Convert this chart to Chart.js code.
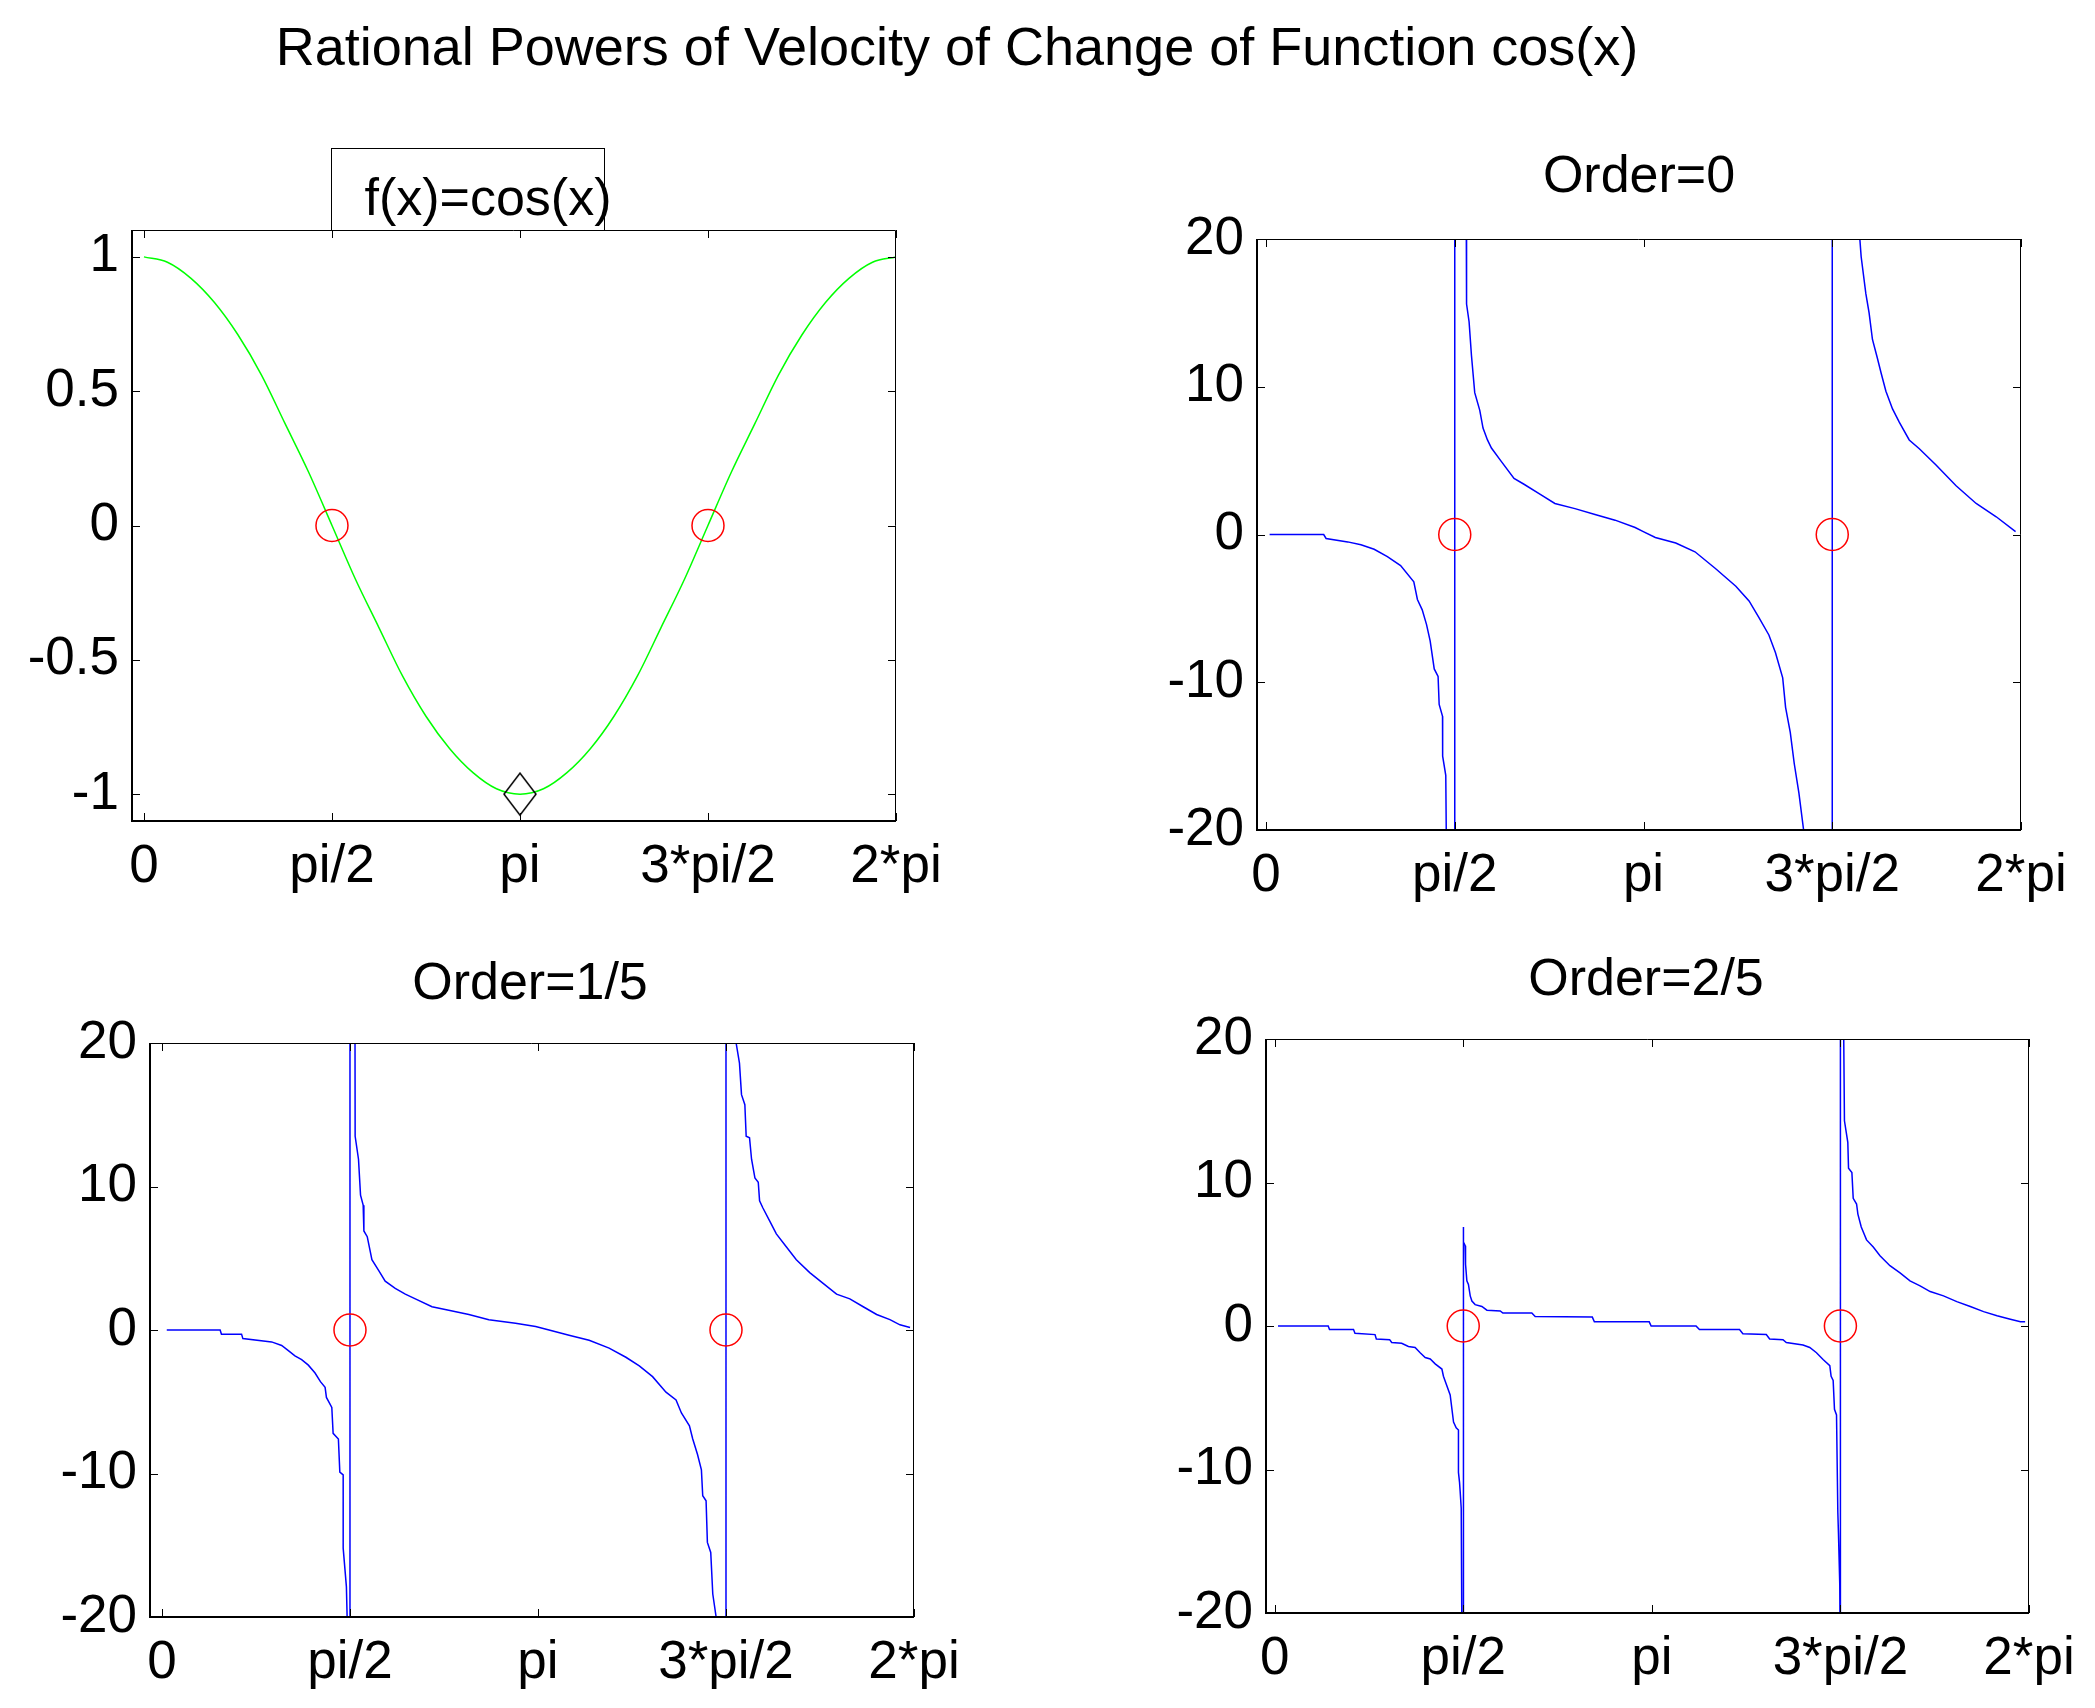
<!DOCTYPE html>
<html>
<head>
<meta charset="utf-8">
<script src="https://cdn.jsdelivr.net/npm/chart.js@4.4.1/dist/chart.umd.min.js"></script>
<style>
html,body{margin:0;padding:0;background:#fff;width:2095px;height:1708px;overflow:hidden;}
body{position:relative;font-family:"Liberation Sans",Arial,sans-serif;color:#000;}
canvas{position:absolute;}
.t{position:absolute;white-space:nowrap;font-size:52px;line-height:52px;transform:translateX(-50%);z-index:2;}
#box{position:absolute;left:331px;top:148px;width:274px;height:82px;border:1.5px solid #000;border-bottom:none;box-sizing:border-box;z-index:2;}
</style>
</head>
<body>
<div class="t" style="left:957px;top:19px;font-size:54px;line-height:54px">Rational Powers of Velocity of Change of Function cos(x)</div>
<div id="box"></div>
<div class="t" style="left:488px;top:171px">f(x)=cos(x)</div>
<div class="t" style="left:1639px;top:148px">Order=0</div>
<div class="t" style="left:530px;top:955px">Order=1/5</div>
<div class="t" style="left:1646px;top:951px">Order=2/5</div>
<script>
// ---------- data ----------
const xTickValues = [0, 1.5708, 3.1416, 4.7124, 6.2832];
const xTickLabels = ['0', 'pi/2', 'pi', '3*pi/2', '2*pi'];
const cosTicks = [-1, -0.5, 0, 0.5, 1];
const orderTicks = [-20, -10, 0, 10, 20];

const cosPoints = [
  [0.00,1.00],[0.196,0.98],[0.393,0.92],[0.589,0.83],[0.785,0.71],[0.982,0.56],[1.178,0.38],[1.374,0.20],
  [1.571,0.00],[1.767,-0.20],[1.963,-0.38],[2.160,-0.56],[2.356,-0.71],[2.553,-0.83],[2.749,-0.92],[2.945,-0.98],
  [3.142,-1.00],[3.338,-0.98],[3.534,-0.92],[3.731,-0.83],[3.927,-0.71],[4.123,-0.56],[4.320,-0.38],[4.516,-0.20],
  [4.712,0.00],[4.909,0.20],[5.105,0.38],[5.301,0.56],[5.498,0.71],[5.694,0.83],[5.890,0.92],[6.087,0.98],[6.283,1.00]
];
const cosZeros = [[1.5708,0],[4.7124,0]];
const cosMinimum = [[3.1416,-1]];

const order0Points = [
  [0.03,0],[0.48,0],[0.50,-0.27],[0.68,-0.5],[0.79,-0.7],[0.90,-1.0],[1.01,-1.5],[1.12,-2.1],[1.23,-3.2],
  [1.26,-4.4],[1.30,-5.1],[1.336,-6.1],[1.366,-7.2],[1.40,-9.1],[1.432,-9.6],[1.441,-11.5],[1.469,-12.3],
  [1.47,-15],[1.496,-16.3],[1.502,-22],[1.5708,-40],[1.5708,40],[1.665,25],[1.669,15.6],[1.69,14.4],
  [1.71,12.1],[1.737,9.6],[1.779,8.4],[1.806,7.2],[1.843,6.4],[1.876,5.85],[1.953,5.0],[2.064,3.8],
  [2.147,3.4],[2.286,2.7],[2.404,2.1],[2.571,1.75],[2.738,1.36],[2.905,0.97],[3.072,0.47],[3.14,0.19],
  [3.24,-0.2],[3.41,-0.58],[3.57,-1.17],[3.74,-2.3],[3.91,-3.5],[4.02,-4.5],[4.10,-5.6],[4.185,-6.8],
  [4.24,-8.0],[4.30,-9.7],[4.324,-11.7],[4.363,-13.4],[4.396,-15.5],[4.435,-17.5],[4.474,-20],[4.48,-25],
  [4.7124,-40],[4.7124,40],[4.935,25],[4.942,20],[4.953,18.8],[4.992,16.3],[5.019,15],[5.047,13.2],
  [5.086,12],[5.12,10.9],[5.159,9.7],[5.214,8.5],[5.27,7.6],[5.353,6.4],[5.437,5.8],[5.576,4.7],
  [5.743,3.3],[5.91,2.1],[6.077,1.2],[6.238,0.2]
];
const order15Points = [
  [0.04,0],[0.486,0],[0.497,-0.29],[0.665,-0.29],[0.676,-0.6],[0.916,-0.83],[1.0,-1.08],[1.056,-1.44],
  [1.111,-1.8],[1.167,-2.06],[1.223,-2.45],[1.279,-3.0],[1.324,-3.6],[1.363,-4.0],[1.374,-4.7],[1.419,-5.4],
  [1.43,-7.2],[1.474,-7.6],[1.486,-9.9],[1.514,-10.1],[1.514,-15.2],[1.541,-17.9],[1.547,-20],[1.55,-22],
  [1.5708,-40],[1.5708,40],[1.612,25],[1.614,13.5],[1.642,11.9],[1.659,9.4],[1.681,8.7],[1.687,6.9],
  [1.715,6.5],[1.737,5.6],[1.754,4.9],[1.81,4.15],[1.865,3.4],[1.949,2.9],[2.033,2.5],[2.117,2.17],
  [2.256,1.62],[2.396,1.37],[2.564,1.08],[2.731,0.72],[2.954,0.47],[3.122,0.25],[3.234,0],[3.401,-0.36],
  [3.569,-0.72],[3.736,-1.26],[3.876,-1.9],[3.988,-2.5],[4.099,-3.25],[4.211,-4.33],[4.295,-4.87],
  [4.34,-5.78],[4.407,-6.68],[4.434,-7.58],[4.474,-8.66],[4.507,-9.75],[4.518,-11.55],[4.546,-11.9],
  [4.557,-14.8],[4.585,-15.5],[4.602,-18.4],[4.63,-20],[4.635,-22],[4.7124,-40],[4.7124,40],[4.795,25],
  [4.797,20],[4.825,18.6],[4.842,16.4],[4.87,15.7],[4.881,13.5],[4.909,13.4],[4.926,11.9],[4.954,10.6],
  [4.982,10.3],[4.993,9.0],[5.021,8.5],[5.077,7.6],[5.133,6.7],[5.216,5.8],[5.3,4.9],[5.412,4.0],
  [5.524,3.25],[5.636,2.5],[5.747,2.17],[5.859,1.62],[5.971,1.08],[6.082,0.72],[6.166,0.36],[6.25,0.18]
];
const order25Points = [
  [0.028,0],[0.446,0],[0.457,-0.25],[0.657,-0.25],[0.669,-0.5],[0.836,-0.6],[0.847,-0.9],[0.958,-0.95],
  [0.975,-1.15],[1.058,-1.2],[1.114,-1.43],[1.17,-1.5],[1.212,-1.87],[1.254,-2.2],[1.296,-2.3],[1.337,-2.64],
  [1.393,-3.0],[1.406,-3.5],[1.429,-4.05],[1.462,-4.8],[1.49,-6.7],[1.512,-7.1],[1.531,-7.25],[1.531,-10.2],
  [1.54,-10.9],[1.545,-11.5],[1.554,-12.7],[1.5708,-40],[1.5708,6.9],[1.573,6.9],[1.574,5.85],[1.587,5.6],
  [1.59,4.3],[1.601,3.15],[1.614,2.9],[1.629,2.1],[1.643,1.74],[1.67,1.49],[1.726,1.36],[1.768,1.1],
  [1.879,1.05],[1.901,0.9],[2.142,0.9],[2.17,0.66],[2.646,0.62],[2.663,0.29],[3.12,0.29],[3.136,0],
  [3.51,0],[3.538,-0.25],[3.872,-0.25],[3.9,-0.54],[4.095,-0.6],[4.123,-0.9],[4.234,-0.95],[4.262,-1.15],
  [4.401,-1.33],[4.457,-1.5],[4.513,-1.86],[4.568,-2.33],[4.624,-2.76],[4.635,-3.5],[4.652,-3.8],
  [4.663,-5.8],[4.68,-6.2],[4.691,-13],[4.696,-14.4],[4.707,-18],[4.71,-22],[4.7124,-40],[4.7124,40],
  [4.735,25],[4.746,14.3],[4.774,12.8],[4.78,11],[4.808,10.7],[4.819,8.9],[4.847,8.5],[4.858,7.8],
  [4.886,6.9],[4.93,6.0],[4.986,5.5],[5.042,4.9],[5.125,4.2],[5.209,3.7],[5.292,3.15],[5.376,2.8],
  [5.46,2.4],[5.571,2.1],[5.682,1.7],[5.794,1.36],[5.905,1.0],[6.017,0.72],[6.128,0.47],[6.212,0.29],[6.251,0.29]
];
const singularPoints = [[1.5708,0],[4.7124,0]];

// ---------- helpers ----------
const FONT = '"Liberation Sans", Arial, sans-serif';
const TICK_SIZE = 53;
const toXY = arr => arr.map(p => ({x: p[0], y: p[1]}));

const diamond = (() => {
  const c = document.createElement('canvas');
  c.width = 36; c.height = 46;
  const g = c.getContext('2d');
  g.strokeStyle = '#000'; g.lineWidth = 1.5;
  g.beginPath(); g.moveTo(18, 2); g.lineTo(34, 23); g.lineTo(18, 44); g.lineTo(2, 23); g.closePath(); g.stroke();
  return c;
})();

const framePlugin = {
  id: 'matlabFrame',
  afterDraw(chart) {
    const {ctx, chartArea: a, scales: {x, y}} = chart;
    ctx.save();
    ctx.strokeStyle = '#000';
    ctx.lineWidth = 1;
    ctx.beginPath();
    ctx.moveTo(a.left, a.top + 0.5); ctx.lineTo(a.right - 0.5, a.top + 0.5); ctx.lineTo(a.right - 0.5, a.bottom);
    ctx.stroke();
    ctx.lineWidth = 2;
    ctx.beginPath();
    ctx.moveTo(a.left, a.top); ctx.lineTo(a.left, a.bottom); ctx.lineTo(a.right, a.bottom);
    ctx.stroke();
    ctx.lineWidth = 1;
    ctx.beginPath();
    const L = 8;
    x.ticks.forEach(t => {
      const px = Math.round(x.getPixelForValue(t.value)) + 0.5;
      ctx.moveTo(px, a.bottom); ctx.lineTo(px, a.bottom - L);
      ctx.moveTo(px, a.top); ctx.lineTo(px, a.top + L);
    });
    y.ticks.forEach(t => {
      const py = Math.round(y.getPixelForValue(t.value)) + 0.5;
      ctx.moveTo(a.left, py); ctx.lineTo(a.left + L, py);
      ctx.moveTo(a.right, py); ctx.lineTo(a.right - L, py);
    });
    ctx.stroke();
    ctx.restore();
  }
};

function makeChart(box, xMin, yMin, yMax, yTicks, datasets) {
  const Wy = 150, Pt = 50, Pr = 70, Hx = 95, Pb = 10;
  const w = box.R - box.L, h = box.B - box.T;
  const cv = document.createElement('canvas');
  cv.width = Wy + w + Pr; cv.height = Pt + h + Hx + Pb;
  cv.style.left = (box.L - Wy) + 'px';
  cv.style.top = (box.T - Pt) + 'px';
  cv.style.width = cv.width + 'px';
  cv.style.height = cv.height + 'px';
  document.body.appendChild(cv);
  new Chart(cv, {
    type: 'line',
    data: {datasets},
    options: {
      responsive: false, animation: false, devicePixelRatio: 1, events: [],
      layout: {padding: {left: 0, top: Pt, right: Pr, bottom: Pb}},
      plugins: {legend: {display: false}, tooltip: {enabled: false}, title: {display: false}},
      scales: {
        x: {
          type: 'linear', min: xMin, max: 6.2832,
          afterBuildTicks: s => { s.ticks = xTickValues.map(v => ({value: v})); },
          afterFit: s => { s.height = Hx; },
          grid: {display: false, drawTicks: false}, border: {display: false},
          ticks: {padding: 15, maxRotation: 0, minRotation: 0, autoSkip: false, color: '#000',
                  font: {family: FONT, size: TICK_SIZE},
                  callback: (v, i) => xTickLabels[i]}
        },
        y: {
          type: 'linear', min: yMin, max: yMax,
          afterBuildTicks: s => { s.ticks = yTicks.map(v => ({value: v})); },
          afterFit: s => { s.width = Wy; },
          grid: {display: false, drawTicks: false}, border: {display: false},
          ticks: {padding: 13, autoSkip: false, color: '#000',
                  font: {family: FONT, size: TICK_SIZE},
                  callback: v => String(v)}
        }
      }
    },
    plugins: [framePlugin]
  });
}

const redCircles = pts => ({
  data: toXY(pts), showLine: false, pointRadius: 16, pointStyle: 'circle',
  pointBorderColor: '#ff0000', pointBackgroundColor: 'rgba(0,0,0,0)', pointBorderWidth: 1.5
});
const blueCurve = pts => ({
  data: toXY(pts), borderColor: '#0000ff', borderWidth: 1.5, pointRadius: 0, tension: 0, fill: false
});

makeChart({L:132, T:230, R:896, B:821}, -0.1, -1.1, 1.1, cosTicks, [
  {data: toXY(cosMinimum), showLine: false, pointStyle: diamond, pointRadius: 20},
  redCircles(cosZeros),
  {data: toXY(cosPoints), borderColor: '#00ff00', borderWidth: 1.5, pointRadius: 0, cubicInterpolationMode: 'monotone', fill: false}
]);
makeChart({L:1257, T:239, R:2021, B:830}, -0.075, -20, 20, orderTicks, [
  redCircles(singularPoints), blueCurve(order0Points)
]);
makeChart({L:150, T:1043, R:914, B:1617}, -0.1, -20, 20, orderTicks, [
  redCircles(singularPoints), blueCurve(order15Points)
]);
makeChart({L:1266, T:1039, R:2029, B:1613}, -0.072, -20, 20, orderTicks, [
  redCircles(singularPoints), blueCurve(order25Points)
]);
</script>
</body>
</html>
